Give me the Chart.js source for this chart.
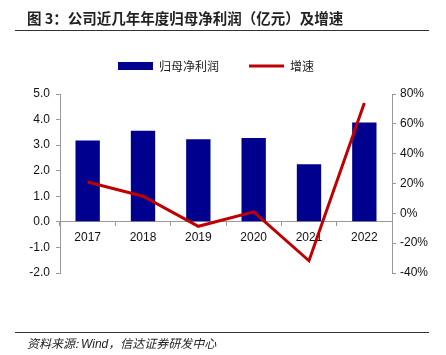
<!DOCTYPE html>
<html>
<head>
<meta charset="utf-8">
<script src="https://cdn.jsdelivr.net/npm/chart.js@4"></script>
<style>
  html, body { margin: 0; padding: 0; background: #fff; }
  #wrap { position: relative; width: 446px; height: 355px; overflow: hidden; }
  #c { position: absolute; left: 0; top: 0; }
  .title { position: absolute; left: 27px; top: 9px; font: bold 14.5px "Noto Sans CJK SC", sans-serif; color: #222; white-space: nowrap; line-height: 18px; }
  .hr { position: absolute; left: 15px; width: 414px; height: 1px; background: #333; }
  .src { position: absolute; left: 27px; top: 335px; font: italic 12px "Noto Sans CJK SC", "Liberation Sans", sans-serif; color: #222; white-space: nowrap; line-height: 15px; }
</style>
</head>
<body>
<div id="wrap">
  <canvas id="c" width="446" height="355"></canvas>
  <div class="title">图 3：公司近几年年度归母净利润（亿元）及增速</div>
  <div class="hr" style="top:30px"></div>
  <div class="hr" style="top:332px"></div>
  <div class="src">资料来源: <span style="font-family:'Liberation Sans',sans-serif">Wind</span>，信达证券研发中心</div>
</div>
<script>
const categories = ['2017', '2018', '2019', '2020', '2021', '2022'];
const profitValues = [3.18, 3.56, 3.23, 3.28, 2.25, 3.89];
const growthValues = [21, 11.5, -8.7, 1, -31.8, 74];
const leftTicks = [5, 4, 3, 2, 1, 0, -1, -2];
const rightTicks = [80, 60, 40, 20, 0, -20, -40];

const tickFont = { family: '"Liberation Sans", Arial, sans-serif', size: 12 };

const legendTweak = {
  id: 'legendTweak',
  afterInit(chart) {
    const lg = chart.legend;
    if (lg && !lg._tweaked) {
      const orig = lg.fit;
      lg.fit = function () { orig.call(this); this.height += 12; };
      lg._tweaked = true;
    }
  },
  afterLayout(chart) {
    const lg = chart.legend;
    if (lg) { lg.left -= 7; lg.right -= 7; }
  }
};

new Chart(document.getElementById('c'), {
  data: {
    labels: categories,
    datasets: [
      {
        type: 'bar',
        label: '归母净利润',
        data: profitValues,
        backgroundColor: '#00008F',
        borderWidth: 0,
        yAxisID: 'y',
        barPercentage: 0.88,
        categoryPercentage: 0.5,
        pointStyle: 'rect',
        order: 2
      },
      {
        type: 'line',
        label: '增速',
        data: growthValues,
        borderColor: '#C00000',
        backgroundColor: '#C00000',
        borderWidth: 3,
        pointRadius: 0,
        pointHoverRadius: 0,
        tension: 0,
        yAxisID: 'y1',
        pointStyle: 'line',
        order: 1
      }
    ]
  },
  plugins: [legendTweak],
  options: {
    responsive: false,
    animation: false,
    devicePixelRatio: 1,
    layout: { padding: { left: 0, right: 0, top: 30, bottom: 82 } },
    plugins: {
      tooltip: { enabled: false },
      legend: {
        display: true,
        position: 'top',
        labels: {
          usePointStyle: true,
          pointStyleWidth: 35,
          boxHeight: 8,
          padding: 30,
          color: '#222',
          sort: (a, b) => a.datasetIndex - b.datasetIndex,
          font: { family: '"Noto Sans CJK SC", sans-serif', size: 12 }
        }
      }
    },
    scales: {
      x: {
        position: { y: 0 },
        grid: { display: true, drawOnChartArea: false, drawTicks: true, tickLength: 4, color: '#999', offset: true },
        border: { display: true, color: '#999', width: 1 },
        ticks: { color: '#111', font: tickFont, padding: 5 }
      },
      y: {
        position: 'left',
        min: -2, max: 5,
        afterFit: (s) => { s.width = 60; },
        afterBuildTicks: (s) => { s.ticks = leftTicks.map(v => ({ value: v })); },
        grid: { display: true, drawOnChartArea: false, tickLength: 4, color: '#999' },
        border: { display: true, color: '#999' },
        ticks: { color: '#111', font: tickFont, padding: 6, callback: (v) => v.toFixed(1) }
      },
      y1: {
        position: 'right',
        min: -40, max: 80,
        afterFit: (s) => { s.width = 54; },
        afterBuildTicks: (s) => { s.ticks = rightTicks.map(v => ({ value: v })); },
        grid: { display: true, drawOnChartArea: false, tickLength: 4, color: '#999' },
        border: { display: true, color: '#999' },
        ticks: { color: '#111', font: tickFont, padding: 4, callback: (v) => v + '%' }
      }
    }
  }
});
</script>
</body>
</html>
